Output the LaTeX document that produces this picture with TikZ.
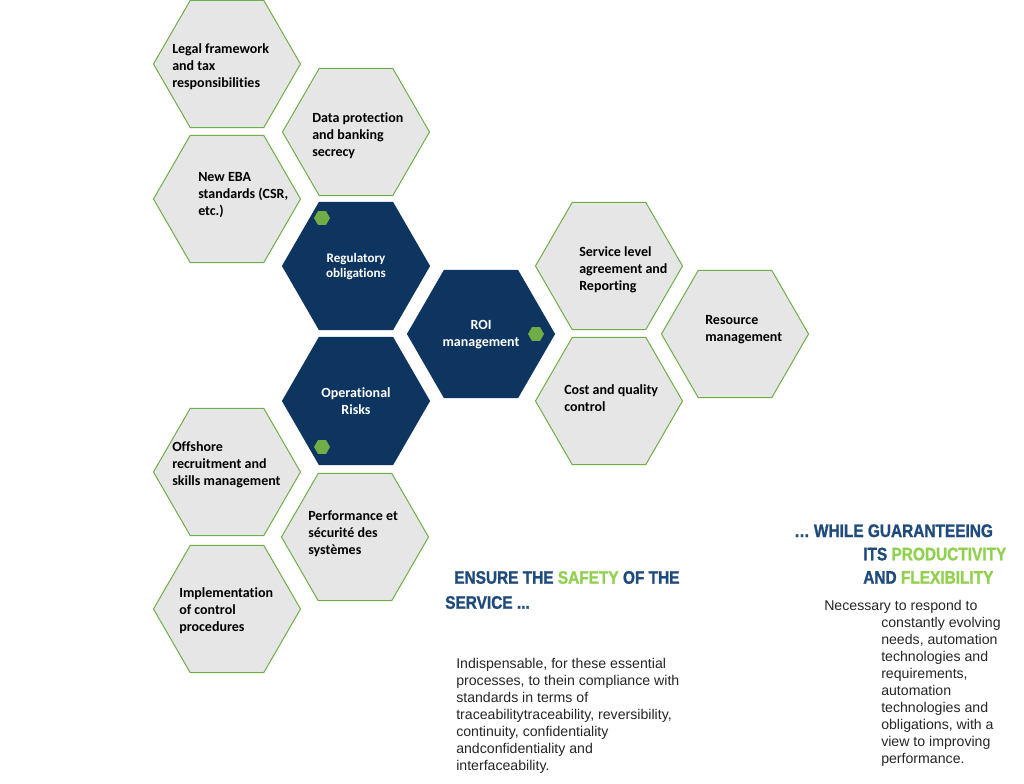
\documentclass[tikz,border=0pt]{standalone}
\usepackage{fontspec}
\setmainfont{Carlito}[Ligatures=NoCommon]
\newfontfamily\bodyfont{Liberation Sans}
\newfontfamily\headfont[FakeStretch=0.85, FakeBold=1.2]{Liberation Sans}
\usetikzlibrary{shapes.geometric}
\definecolor{navy}{HTML}{0D3560}
\definecolor{leaf}{HTML}{70AD47}
\definecolor{lime}{HTML}{92D050}
\definecolor{titleblue}{HTML}{1F4A7C}
\definecolor{cell}{HTML}{E7E6E6}
\begin{document}
\begin{tikzpicture}[x=0.75pt, y=-0.75pt,
  greyhex/.style={regular polygon, regular polygon sides=6, minimum size=110.25pt, inner sep=0pt, fill=cell, draw=leaf, line width=0.75pt},
  navyhex/.style={regular polygon, regular polygon sides=6, minimum size=110.25pt, inner sep=0pt, fill=navy, draw=navy, line width=0.75pt},
  dot/.style={regular polygon, regular polygon sides=6, minimum size=12pt, inner sep=0pt, fill=leaf, draw=none},
  hexlabel/.style={anchor=west, inner sep=0pt, align=left, font=\fontsize{10.5}{12.75}\selectfont\bfseries},
  navylabel/.style={inner sep=0pt, align=center, text=white, font=\fontsize{10.5}{12.75}\selectfont\bfseries},
  head/.style={anchor=west, inner sep=0pt, align=left, text=titleblue, font=\headfont\fontsize{13.6}{17.5}\selectfont\bfseries},
  body/.style={anchor=west, inner sep=0pt, align=left, text=black!85, font=\bodyfont\fontsize{10.6}{12.75}\selectfont}]
\useasboundingbox[fill=white] (0,0) rectangle (1024,784);

% grey hexagons
\node[greyhex] (legal) at (227,64) {};
\node[greyhex] (data) at (356,132) {};
\node[greyhex] (eba) at (227,199) {};
\node[greyhex] (sla) at (609,266) {};
\node[greyhex] (resource) at (735,334) {};
\node[greyhex] (cost) at (609,401) {};
\node[greyhex] (offshore) at (227,472) {};
\node[greyhex] (perf) at (355,537) {};
\node[greyhex] (impl) at (227,609) {};

% dark hexagons
\node[navyhex] (reg) at (356,266) {};
\node[navyhex] (roi) at (481,334) {};
\node[navyhex] (ops) at (356,401) {};
\node[dot] (regdot) at (322,218) {};
\node[dot] (roidot) at (536,334) {};
\node[dot] (opsdot) at (322,447) {};

% labels
\node[hexlabel] (legaltxt) at (172,67) {Legal framework\\and tax\\responsibilities};
\node[hexlabel] (datatxt) at (312,136) {Data protection\\and banking\\secrecy};
\node[hexlabel] (ebatxt) at (198,195) {New EBA\\standards (CSR,\\etc.)};
\node[hexlabel] (slatxt) at (579,270) {Service level\\agreement and\\Reporting};
\node[hexlabel] (resourcetxt) at (705,330) {Resource\\management};
\node[hexlabel] (costtxt) at (564,398) {Cost and quality\\control};
\node[hexlabel] (offshoretxt) at (172,465) {Offshore\\recruitment and\\skills management};
\node[hexlabel] (perftxt) at (308,534) {Performance et\\sécurité des\\systèmes};
\node[hexlabel] (impltxt) at (179,611) {Implementation\\of control\\procedures};
\node[navylabel, font=\fontsize{9.8}{11.25}\selectfont\bfseries] (regtxt) at (356,267) {Regulatory\\obligations};
\node[navylabel] (roitxt) at (481,335) {ROI\\management};
\node[navylabel] (opstxt) at (356,401) {Operational\\Risks};

% headings and texts
\node[head, font=\headfont\fontsize{13.6}{18.75}\selectfont\bfseries] (safety) at (445,590) {\hspace*{6.75pt}ENSURE THE \textcolor{lime}{SAFETY} OF THE\\SERVICE ...};
\node[head] (flex) at (863,554) {\hspace*{-51.75pt}… WHILE GUARANTEEING\\ITS \textcolor{lime}{PRODUCTIVITY}\\AND \textcolor{lime}{FLEXIBILITY}};
\node[body] (safetytxt) at (456,716) {Indispensable, for these essential\\processes, to thein compliance with\\standards in terms of\\traceabilitytraceability, reversibility,\\continuity, confidentiality\\andconfidentiality and\\interfaceability.};
\node[body] (flextxt) at (881,683) {\hspace*{-42.75pt}Necessary to respond to\\constantly evolving\\needs, automation\\technologies and\\requirements,\\automation\\technologies and\\obligations, with a\\view to improving\\performance.};
\end{tikzpicture}
\end{document}
